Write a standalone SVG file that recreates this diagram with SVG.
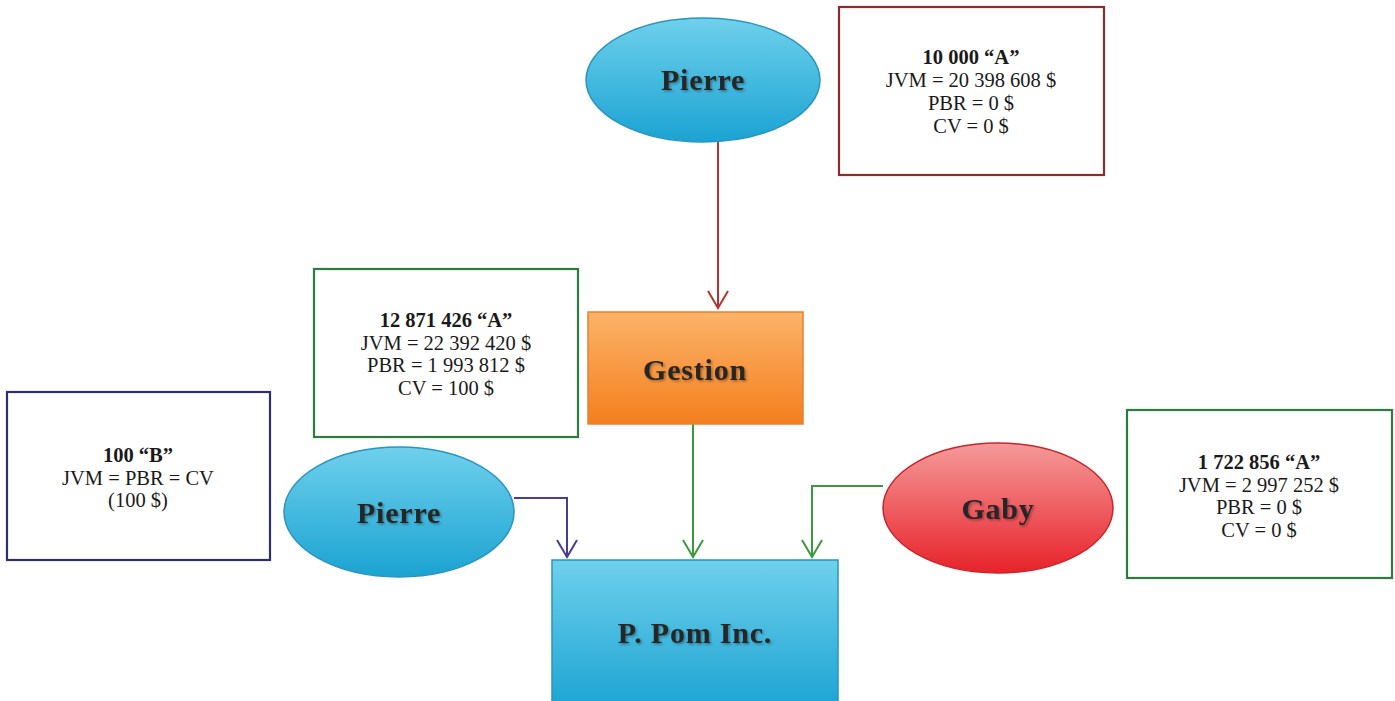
<svg xmlns="http://www.w3.org/2000/svg" width="1395" height="701" viewBox="0 0 1395 701">
  <defs>
    <linearGradient id="gBlue" x1="0" y1="0" x2="0" y2="1">
      <stop offset="0" stop-color="#6fd0ec"/>
      <stop offset="1" stop-color="#1ba3d2"/>
    </linearGradient>
    <linearGradient id="gRed" x1="0" y1="0" x2="0" y2="1">
      <stop offset="0" stop-color="#f59a9a"/>
      <stop offset="1" stop-color="#e8222a"/>
    </linearGradient>
    <linearGradient id="gOrange" x1="0" y1="0" x2="0" y2="1">
      <stop offset="0" stop-color="#fbb36a"/>
      <stop offset="1" stop-color="#f47f1e"/>
    </linearGradient>
    <filter id="shadow" x="-10%" y="-10%" width="130%" height="140%">
      <feDropShadow dx="1.5" dy="1.5" stdDeviation="0.8" flood-color="#000" flood-opacity="0.35"/>
    </filter>
    <!-- open chevron arrowheads pointing down -->
    <marker id="aRed" viewBox="-12 -20 24 22" refX="0" refY="0" markerWidth="24" markerHeight="22" markerUnits="userSpaceOnUse">
      <path d="M-10,-17 L0,0 L10,-17" fill="none" stroke="#b83232" stroke-width="2"/>
    </marker>
    <marker id="aGreen" viewBox="-12 -20 24 22" refX="0" refY="0" markerWidth="24" markerHeight="22" markerUnits="userSpaceOnUse">
      <path d="M-10,-17 L0,0 L10,-17" fill="none" stroke="#3a9a3c" stroke-width="2"/>
    </marker>
    <marker id="aPurple" viewBox="-12 -20 24 22" refX="0" refY="0" markerWidth="24" markerHeight="22" markerUnits="userSpaceOnUse">
      <path d="M-10,-17 L0,0 L10,-17" fill="none" stroke="#4b3c8c" stroke-width="2"/>
    </marker>
    <style>
      .title { font-family: "Liberation Serif", "Times New Roman", serif; font-weight: bold; font-size: 30px; fill: #262626; text-anchor: middle; letter-spacing: 0.8px; }
      .info { font-family: "Liberation Serif", "Times New Roman", serif; font-size: 20.5px; fill: #1a1a1a; text-anchor: middle; }
      .info .b { font-weight: bold; }
      .box { fill: #ffffff; stroke-width: 2.2; }
      .conn { fill: none; stroke-width: 2; }
    </style>
  </defs>

  <rect width="1395" height="701" fill="#ffffff"/>

  <!-- connectors -->
  <g id="connectors">
    <path class="conn" d="M718,142 V308" stroke="#b83232" marker-end="url(#aRed)"/>
    <path class="conn" d="M693,424 V557" stroke="#3a9a3c" marker-end="url(#aGreen)"/>
    <path class="conn" d="M514,498 H567 V557" stroke="#4b3c8c" marker-end="url(#aPurple)"/>
    <path class="conn" d="M883,486 H812 V557" stroke="#3a9a3c" marker-end="url(#aGreen)"/>
  </g>

  <!-- top shareholder -->
  <g id="pierre-top">
    <ellipse cx="703" cy="80" rx="117" ry="62" fill="url(#gBlue)" stroke="#2a95bd" stroke-width="1.5"/>
    <text class="title" x="703" y="90" filter="url(#shadow)">Pierre</text>
  </g>

  <g id="info-pierre-top">
    <rect class="box" x="839" y="7" width="265" height="168" stroke="#8e2a2e"/>
    <text class="info" x="971" y="64"><tspan class="b">10 000 “A”</tspan><tspan x="971" dy="23">JVM = 20 398 608 $</tspan><tspan x="971" dy="23">PBR = 0 $</tspan><tspan x="971" dy="23">CV = 0 $</tspan></text>
  </g>

  <g id="gestion">
    <rect x="588" y="312" width="215" height="112" fill="url(#gOrange)" stroke="#e5822c" stroke-width="1.5"/>
    <text class="title" x="695" y="380" filter="url(#shadow)">Gestion</text>
  </g>

  <g id="info-gestion">
    <rect class="box" x="314" y="269" width="264" height="168" stroke="#2f7a3e"/>
    <text class="info" x="446" y="327"><tspan class="b">12 871 426 “A”</tspan><tspan x="446" dy="22.5">JVM = 22 392 420 $</tspan><tspan x="446" dy="22.5">PBR = 1 993 812 $</tspan><tspan x="446" dy="22.5">CV = 100 $</tspan></text>
  </g>

  <g id="info-pierre-b">
    <rect class="box" x="7" y="392" width="263" height="168" stroke="#2f2f6e"/>
    <text class="info" x="138" y="462"><tspan class="b">100 “B”</tspan><tspan x="138" dy="22.5">JVM = PBR = CV</tspan><tspan x="138" dy="22.5">(100 $)</tspan></text>
  </g>

  <g id="pierre-bottom">
    <ellipse cx="399" cy="512" rx="115" ry="65" fill="url(#gBlue)" stroke="#2a95bd" stroke-width="1.5"/>
    <text class="title" x="399" y="523" filter="url(#shadow)">Pierre</text>
  </g>

  <g id="gaby">
    <ellipse cx="998" cy="508" rx="115" ry="65" fill="url(#gRed)" stroke="#c8262c" stroke-width="1.5"/>
    <text class="title" x="998" y="519" filter="url(#shadow)">Gaby</text>
  </g>

  <g id="info-gaby">
    <rect class="box" x="1127" y="410" width="265" height="168" stroke="#2f7a3e"/>
    <text class="info" x="1259" y="469"><tspan class="b">1 722 856 “A”</tspan><tspan x="1259" dy="22.5">JVM = 2 997 252 $</tspan><tspan x="1259" dy="22.5">PBR = 0 $</tspan><tspan x="1259" dy="22.5">CV = 0 $</tspan></text>
  </g>

  <g id="p-pom">
    <rect x="552" y="560" width="286" height="150" fill="url(#gBlue)" stroke="#2a95bd" stroke-width="1.5"/>
    <text class="title" x="695" y="643" filter="url(#shadow)">P. Pom Inc.</text>
  </g>
</svg>
